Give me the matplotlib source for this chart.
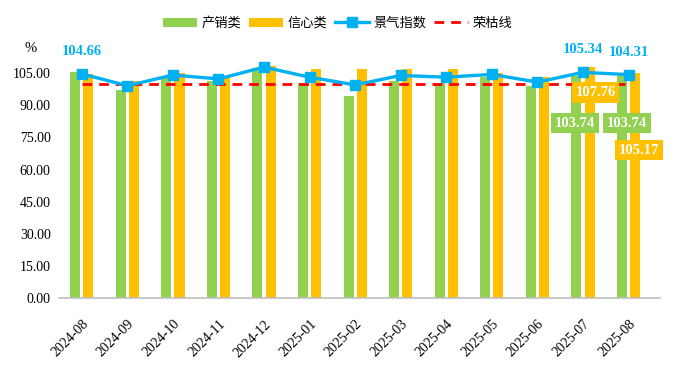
import matplotlib.pyplot as plt
import numpy as np

months = ['2024-08', '2024-09', '2024-10', '2024-11', '2024-12', '2025-01', '2025-02',
          '2025-03', '2025-04', '2025-05', '2025-06', '2025-07', '2025-08']
chanxiao = [105.3, 97.2, 103.1, 101.4, 107.3, 100.6, 94.4, 101.4, 100.3, 103.4, 99.1, 103.74, 103.74]
xinxin = [104.5, 101.4, 105.1, 103.0, 108.4, 107.0, 106.9, 106.9, 106.9, 105.0, 103.1, 107.76, 105.17]
jingqi = [104.66, 99.1, 104.1, 102.3, 107.8, 103.1, 99.5, 103.9, 103.1, 104.4, 100.8, 105.34, 104.31]
rongku = [100] * len(months)
yticks = [0, 15, 30, 45, 60, 75, 90, 105]

green = '#92D050'
yellow = '#FFC000'
blue = '#00B0F0'
red = '#FF0000'
serif = ['Liberation Serif', 'DejaVu Serif']
cjk = ['Noto Sans CJK SC', 'DejaVu Sans']

fig = plt.figure(figsize=(6.75, 3.69), dpi=100)
ax = fig.add_axes([0.0874, 0.192, 0.891, 0.697])

x = np.arange(len(months))
w = 0.22
b1 = ax.bar(x - 0.145, chanxiao, w, color=green, label='产销类', zorder=2)
b2 = ax.bar(x + 0.145, xinxin, w, color=yellow, label='信心类', zorder=2)
l1, = ax.plot(x, jingqi, color=blue, lw=2.4, marker='s', ms=6.5, label='景气指数', zorder=4)
l2, = ax.plot(x, rongku, color=red, lw=2, ls=(0, (3.5, 2.5)), label='荣枯线', zorder=3)

ax.set_xlim(-0.5, len(months) - 0.3)
ax.set_ylim(0, 120)
ax.set_yticks(yticks)
ax.set_yticklabels(['%.2f' % v for v in yticks], family=serif, fontsize=10)
ax.set_xticks(x)
ax.set_xticklabels(months, family=serif, fontsize=10, rotation=45,
                   ha='right', va='top', rotation_mode='anchor')
ax.tick_params(length=0)
ax.tick_params(axis='x', pad=14)
ax.tick_params(axis='y', pad=6)
for s in ['top', 'left', 'right']:
    ax.spines[s].set_visible(False)
ax.spines['bottom'].set_color('#BFBFBF')
ax.spines['bottom'].set_linewidth(1.2)

fig.text(0.045, 0.868, '%', family=serif, fontsize=10.5, ha='center', va='center')

# blue labels on index line
for i, dy in [(0, 11.5), (11, 11.5), (12, 11)]:
    ax.annotate('%.2f' % jingqi[i], (x[i], jingqi[i]), xytext=(0, dy), textcoords='offset points',
                ha='center', va='bottom', color=blue, fontsize=10.5, fontweight='bold', family=serif)

# boxed labels for the last two months
boxed = [(11, xinxin[11], yellow, 0.28, 96.0),
         (11, chanxiao[11], green, -0.18, 81.7),
         (12, chanxiao[12], green, -0.03, 81.7),
         (12, xinxin[12], yellow, 0.23, 69.0)]
for i, v, c, dx, ty in boxed:
    ax.text(x[i] + dx, ty, '%.2f' % v, ha='center', va='center', color='white',
            fontsize=10.5, fontweight='bold', family=serif, zorder=6,
            bbox=dict(boxstyle='square,pad=0.25', fc=c, ec='none'))

leg = fig.legend(handles=[b1, b2, l1, l2], loc='center', bbox_to_anchor=(0.5, 0.937), ncol=4,
                 frameon=False, prop={'family': cjk, 'size': 9.5}, handlelength=2.6,
                 handletextpad=0.3, columnspacing=0.6)

fig.savefig('out.png', dpi=100)
